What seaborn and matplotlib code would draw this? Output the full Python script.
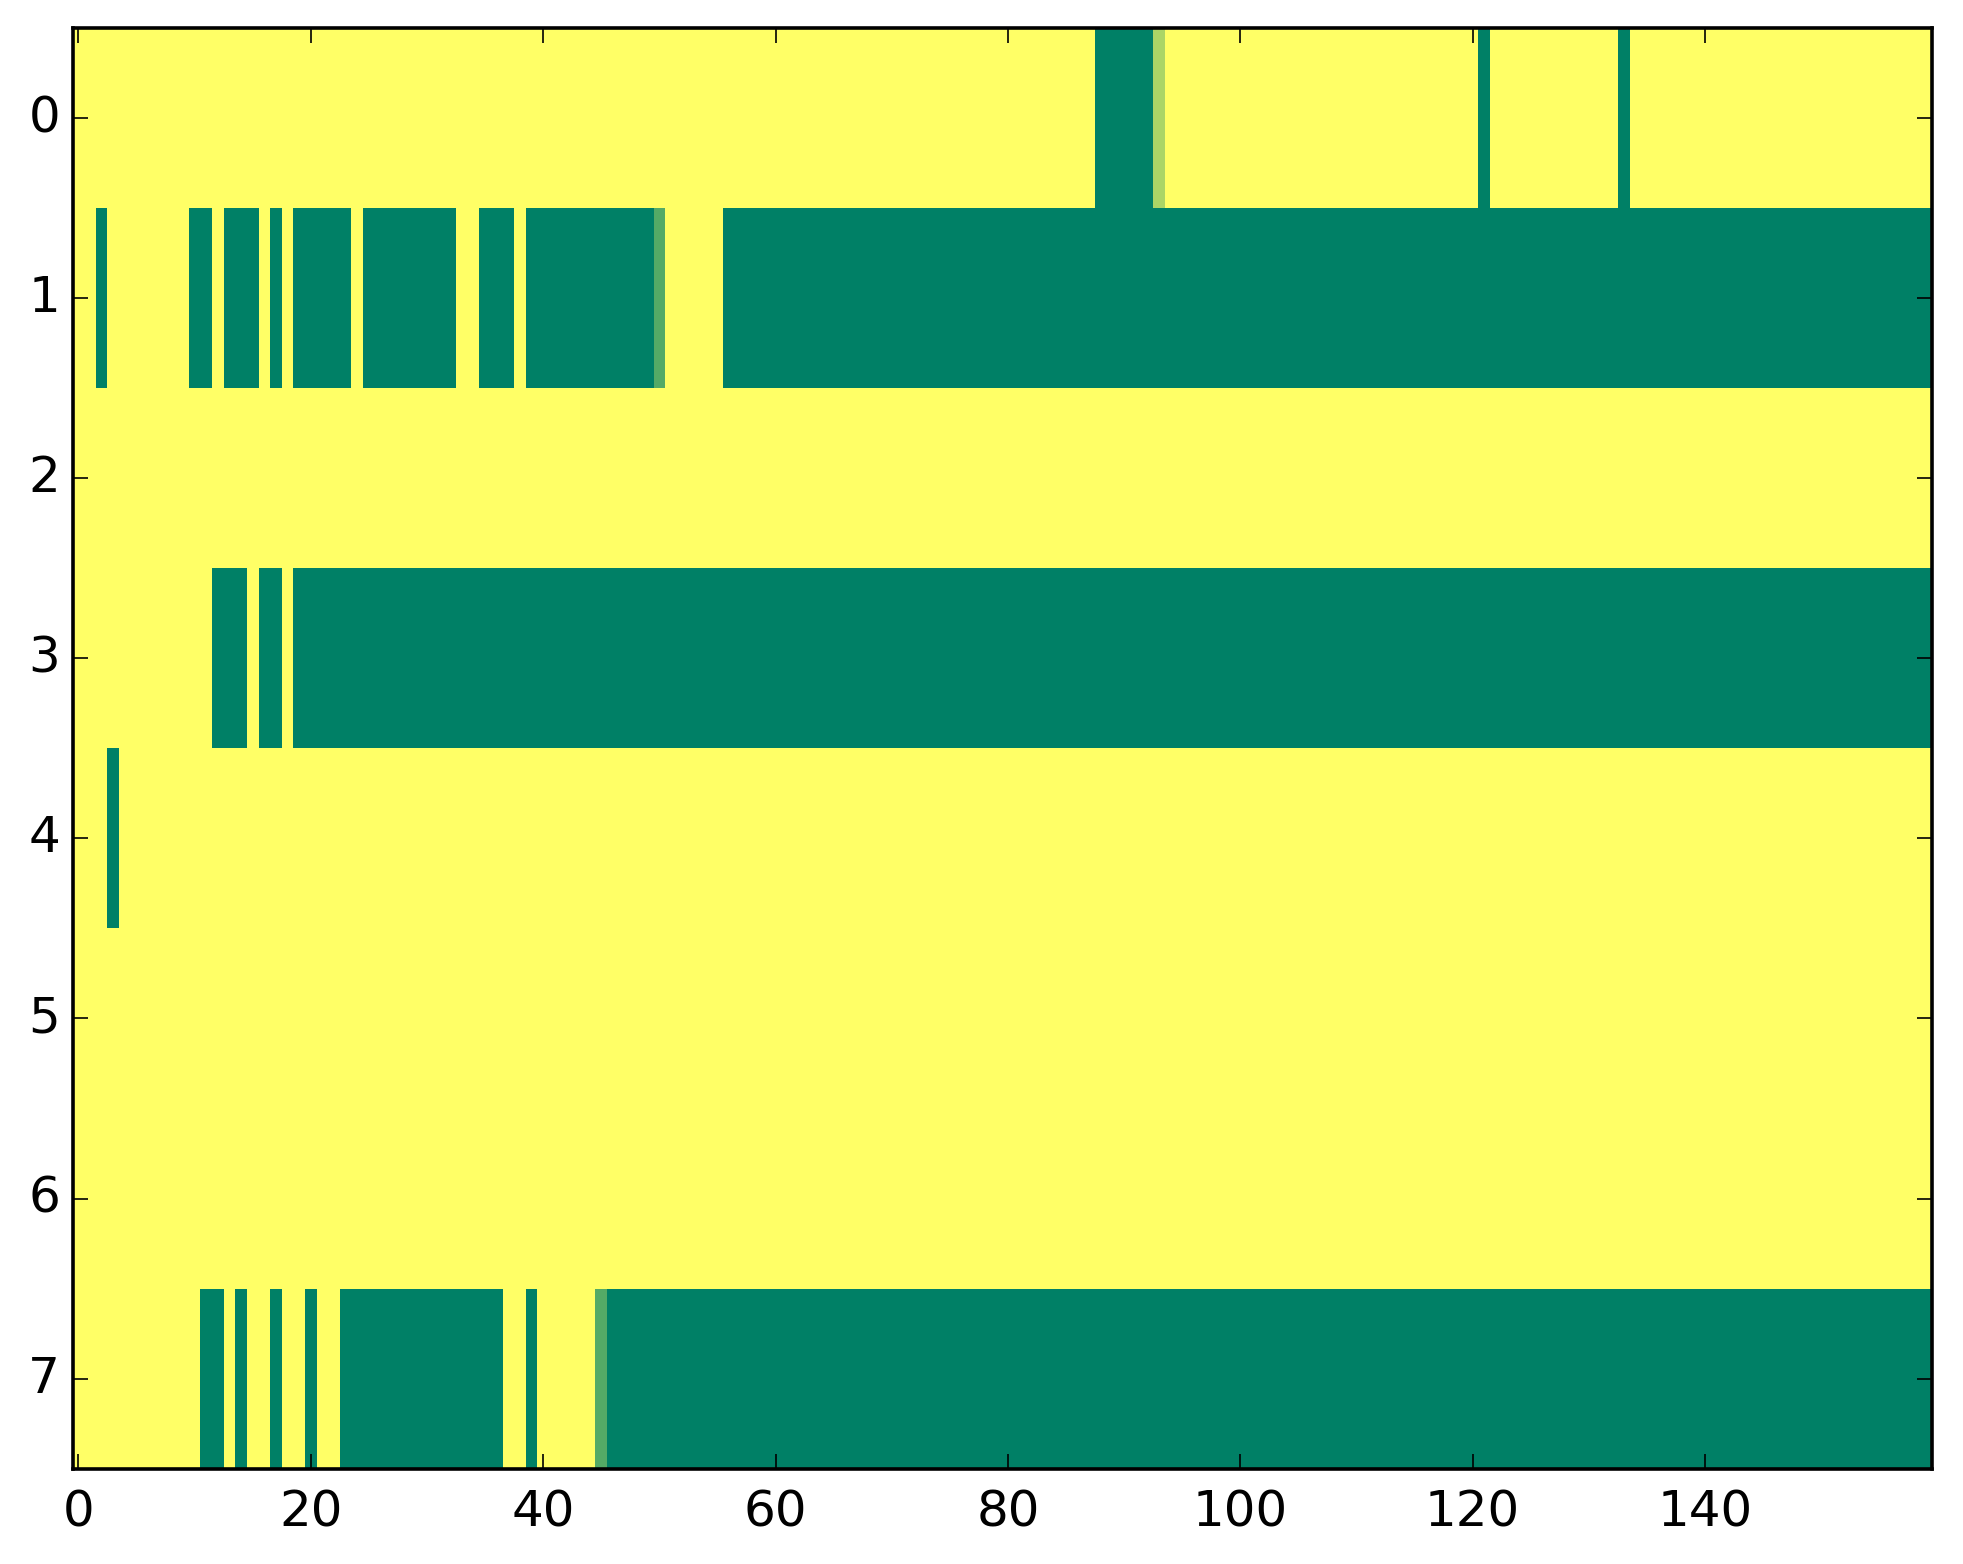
import numpy as np
import pandas as pd
import seaborn as sns
import matplotlib
matplotlib.use("Agg")
import matplotlib.pyplot as plt

n_rows = 8
n_cols = 160
x_ticks = [0, 20, 40, 60, 80, 100, 120, 140]

# runs of cells below 1.0: (first col, last col, value); everything else is 1.0
row0_runs = [(88, 92, 0.0), (93, 93, 0.67), (121, 121, 0.0), (133, 133, 0.0)]
row1_runs = [(2, 2, 0.0), (10, 11, 0.0), (13, 15, 0.0), (17, 17, 0.0), (19, 23, 0.0),
             (25, 32, 0.0), (35, 37, 0.0), (39, 49, 0.0), (50, 50, 0.33), (56, 159, 0.0)]
row2_runs = []
row3_runs = [(12, 14, 0.0), (16, 17, 0.0), (19, 159, 0.0)]
row4_runs = [(3, 3, 0.0)]
row5_runs = []
row6_runs = []
row7_runs = [(11, 12, 0.0), (14, 14, 0.0), (17, 17, 0.0), (20, 20, 0.0), (23, 36, 0.0),
             (39, 39, 0.0), (45, 45, 0.33), (46, 159, 0.0)]

all_runs = [row0_runs, row1_runs, row2_runs, row3_runs,
            row4_runs, row5_runs, row6_runs, row7_runs]

grid = np.ones((n_rows, n_cols))
for r, runs in enumerate(all_runs):
    for a, b, v in runs:
        grid[r, a:b + 1] = v

df = pd.DataFrame(grid)

plt.rcParams['font.family'] = ['DejaVu Sans']
fig = plt.figure(figsize=(1963 / 200, 1564 / 200), dpi=200)
ax = fig.add_axes([0.037, 0.061, 0.947, 0.921])

sns.heatmap(df, cmap='summer', vmin=0, vmax=1, cbar=False, ax=ax)

ax.set_xticks(np.array(x_ticks) + 0.5)
ax.set_xticklabels([str(t) for t in x_ticks], rotation=0, fontsize=18)
ax.set_yticks(np.arange(n_rows) + 0.5)
ax.set_yticklabels([str(i) for i in range(n_rows)], rotation=0, fontsize=18)

for s in ax.spines.values():
    s.set_visible(True)
    s.set_color('black')
    s.set_linewidth(1.3)

ax.tick_params(direction='in', top=True, right=True, length=5.5, width=0.6,
               colors='black')
ax.tick_params(axis='x', pad=7)
ax.tick_params(axis='y', pad=4.5)

fig.savefig('out.png', dpi=200, facecolor='white')
